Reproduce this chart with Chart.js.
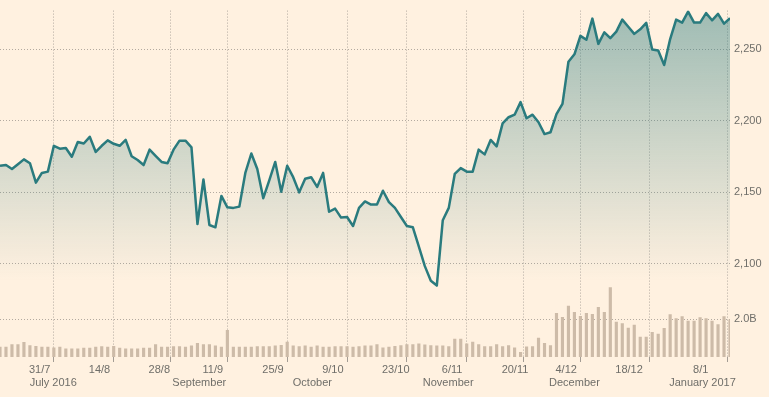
<!DOCTYPE html>
<html>
<head>
<meta charset="utf-8">
<script src="https://cdn.jsdelivr.net/npm/chart.js@4.4.1/dist/chart.umd.min.js"></script>
<style>
  html, body { margin: 0; padding: 0; background: #fff1e0; }
  #wrap { width: 769px; height: 397px; }
  canvas { display: block; }
</style>
</head>
<body>
<div id="wrap"><canvas id="c" width="769" height="397"></canvas></div>
<script>
// ── Data (one value per trading day) ──

const price = [
  2168.5, 2169.0, 2166.2, 2169.6, 2173.0, 2170.3, 2156.7, 2163.5, 2164.4, 2182.5,
  2180.5, 2180.9, 2174.8, 2185.2, 2184.1, 2188.8, 2178.2, 2182.5, 2186.3, 2183.9,
  2182.5, 2186.6, 2175.2, 2172.5, 2169.0, 2179.8, 2175.5, 2171.2, 2170.3, 2179.8,
  2186.1, 2186.1, 2181.4, 2127.7, 2158.9, 2127.0, 2125.4, 2147.4, 2139.4, 2139.0,
  2139.9, 2163.5, 2177.1, 2166.2, 2145.8, 2158.3, 2171.2, 2150.3, 2168.5, 2160.5,
  2149.9, 2159.4, 2160.5, 2153.7, 2163.5, 2136.3, 2138.5, 2132.2, 2132.6, 2126.3,
  2139.0, 2143.5, 2141.3, 2141.3, 2151.0, 2143.1, 2139.0, 2132.6, 2126.3, 2125.4,
  2111.8, 2098.2, 2088.0, 2084.6, 2130.4, 2139.0, 2162.8, 2166.9, 2164.4, 2164.4,
  2179.8, 2176.5, 2186.6, 2182.1, 2198.2, 2202.5, 2204.3, 2213.1, 2201.8, 2204.3,
  2199.0, 2190.7, 2192.0, 2204.7, 2211.9, 2241.4, 2246.6, 2259.5, 2256.8, 2271.6,
  2253.9, 2262.0, 2257.9, 2262.5, 2270.9, 2265.9, 2260.9, 2264.1, 2268.6, 2250.0,
  2249.3, 2239.1, 2257.3, 2270.9, 2268.8, 2276.5, 2268.8, 2268.8, 2275.4, 2270.4,
  2274.9, 2268.1, 2271.8
];

// volume, billions
const volume = [
  0.52, 0.52, 0.66, 0.66, 0.78, 0.60, 0.57, 0.52, 0.52, 0.48,
  0.52, 0.43, 0.43, 0.43, 0.47, 0.47, 0.52, 0.55, 0.52, 0.57,
  0.47, 0.43, 0.43, 0.43, 0.47, 0.47, 0.66, 0.52, 0.52, 0.55,
  0.55, 0.52, 0.59, 0.72, 0.65, 0.65, 0.59, 0.52, 1.41, 0.52,
  0.52, 0.52, 0.52, 0.55, 0.55, 0.55, 0.59, 0.62, 0.79, 0.59,
  0.55, 0.59, 0.52, 0.59, 0.52, 0.52, 0.55, 0.55, 0.55, 0.52,
  0.55, 0.59, 0.59, 0.65, 0.48, 0.52, 0.57, 0.60, 0.65, 0.65,
  0.69, 0.64, 0.60, 0.59, 0.59, 0.55, 0.95, 0.95, 0.69, 0.79,
  0.65, 0.55, 0.55, 0.65, 0.55, 0.60, 0.48, 0.25, 0.54, 0.55,
  1.00, 0.72, 0.60, 2.31, 2.10, 2.69, 2.36, 2.15, 2.31, 2.26,
  2.62, 2.36, 3.67, 1.84, 1.76, 1.53, 1.69, 1.05, 1.05, 1.31,
  1.21, 1.52, 2.24, 2.03, 2.14, 1.90, 1.90, 2.08, 2.03, 1.90,
  1.72, 2.14, 1.96
];

const dayTickPos = [4, 14, 24, 33, 43, 53, 63, 73, 83, 92, 102, 115];
const dayTickLabels = ['31/7', '14/8', '28/8', '11/9', '25/9', '9/10', '23/10', '6/11', '20/11', '4/12', '18/12', '8/1'];

const monthTickPos = [8.9, 33.3, 52.2, 74.9, 96.0, 117.4];
const monthTickLabels = ['July 2016', 'September', 'October', 'November', 'December', 'January 2017'];

const priceTicks = [2100, 2150, 2200, 2250];
const volumeTicks = [2.0];

// ── Style ──
const TEXT = '#6f6e69';
const GRID = '#b3aaa0';
const LINE = '#2a7b7e';
const BAR = '#cdbba8';

Chart.defaults.font.family = '"Liberation Sans", Arial, sans-serif';
Chart.defaults.font.size = 11;

function areaFill(context) {
  const { ctx, chartArea } = context.chart;
  if (!chartArea) return null;
  const g = ctx.createLinearGradient(0, chartArea.top, 0, chartArea.bottom);
  g.addColorStop(0, 'rgba(42,123,126,0.45)');
  g.addColorStop(0.78, 'rgba(42,123,126,0)');
  return g;
}

new Chart(document.getElementById('c'), {
  type: 'line',
  data: {
    datasets: [
      {
        label: 'Price',
        data: price.map((p, i) => ({ x: i, y: p })),
        xAxisID: 'x',
        yAxisID: 'y',
        borderColor: LINE,
        borderWidth: 2.5,
        borderJoinStyle: 'round',
        pointRadius: 0,
        tension: 0,
        fill: 'start',
        backgroundColor: areaFill,
      },
      {
        type: 'bar',
        label: 'Volume',
        data: volume.map((v, i) => ({ x: i, y: v })),
        xAxisID: 'x',
        yAxisID: 'y2',
        backgroundColor: BAR,
        barThickness: 2.5,
      },
    ],
  },
  options: {
    responsive: false,
    animation: false,
    events: [],
    layout: { padding: 0 },
    plugins: {
      legend: { display: false },
      tooltip: { enabled: false },
    },
    scales: {
      x: {
        type: 'linear',
        position: 'bottom',
        min: 0,
        max: 122,
        offset: false,
        afterBuildTicks: s => { s.ticks = dayTickPos.map(v => ({ value: v })); },
        afterFit: s => { s.height = 19; },
        grid: { color: GRID, tickColor: '#a39c94', tickLength: 5, tickBorderDash: [] },
        border: { display: false, dash: [1, 2] },
        ticks: {
          autoSkip: false, maxRotation: 0, minRotation: 0,
          align: 'start', labelOffset: 5, padding: 1, color: TEXT,
          callback: (v, i) => dayTickLabels[i],
        },
      },
      x2: {
        type: 'linear',
        position: 'bottom',
        min: 0,
        max: 122,
        offset: false,
        afterBuildTicks: s => { s.ticks = monthTickPos.map(v => ({ value: v })); },
        afterFit: s => { s.height = 21; },
        grid: { display: false, drawTicks: false },
        border: { display: false },
        ticks: {
          autoSkip: false, maxRotation: 0, minRotation: 0, padding: 0, color: TEXT,
          callback: (v, i) => monthTickLabels[i],
        },
      },
      // price on top, volume below, same right-hand column
      y: {
        type: 'linear',
        position: 'right',
        stack: 'right',
        stackWeight: 300,
        clip: false,
        min: 2073.3,
        max: 2277.2,
        afterBuildTicks: s => { s.ticks = priceTicks.map(v => ({ value: v })); },
        afterFit: s => { s.width = 39; },
        grid: { color: GRID, drawTicks: false },
        border: { display: false, dash: [1, 2] },
        ticks: { padding: 4, color: TEXT, callback: v => v.toLocaleString('en-US') },
      },
      y2: {
        type: 'linear',
        position: 'right',
        stack: 'right',
        stackWeight: 57,
        clip: false,
        min: 0,
        max: 2.923,
        afterBuildTicks: s => { s.ticks = volumeTicks.map(v => ({ value: v })); },
        afterFit: s => { s.width = 39; },
        grid: { color: GRID, drawTicks: false },
        border: { display: false, dash: [1, 2] },
        ticks: { padding: 4, color: TEXT, callback: v => v.toFixed(1) + 'B' },
      },
    },
  },
});
</script>
</body>
</html>
